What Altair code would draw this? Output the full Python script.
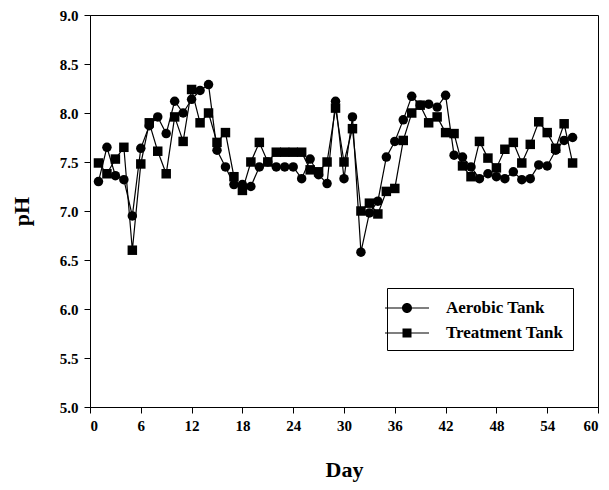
import altair as alt
import pandas as pd

days = list(range(1, 58))
aerobic = [7.30, 7.65, 7.36, 7.32, 6.95, 7.64, 7.87, 7.96, 7.79, 8.12,
           8.00, 8.14, 8.23, 8.29, 7.62, 7.45, 7.27, 7.27, 7.25, 7.45,
           7.50, 7.45, 7.45, 7.45, 7.33, 7.53, 7.37, 7.28, 8.12, 7.33,
           7.96, 6.58, 6.98, 7.10, 7.55, 7.71, 7.93, 8.17, 8.08, 8.09,
           8.06, 8.18, 7.57, 7.55, 7.45, 7.33, 7.38, 7.35, 7.33, 7.40,
           7.32, 7.33, 7.47, 7.46, 7.62, 7.72, 7.75]
treatment = [7.49, 7.38, 7.53, 7.65, 6.60, 7.48, 7.90, 7.61, 7.38, 7.96,
             7.71, 8.24, 7.90, 8.00, 7.70, 7.80, 7.35, 7.21, 7.50, 7.70,
             7.50, 7.60, 7.60, 7.60, 7.60, 7.42, 7.40, 7.50, 8.05, 7.50,
             7.84, 7.00, 7.08, 6.97, 7.20, 7.23, 7.72, 8.00, 8.08, 7.90,
             7.96, 7.80, 7.79, 7.46, 7.35, 7.71, 7.54, 7.44, 7.63, 7.70,
             7.49, 7.68, 7.91, 7.80, 7.64, 7.89, 7.49]
series_names = ["Aerobic Tank", "Treatment Tank"]
x_ticks = list(range(0, 61, 6))
y_ticks = [5.0, 5.5, 6.0, 6.5, 7.0, 7.5, 8.0, 8.5, 9.0]

df = pd.concat([
    pd.DataFrame({"Day": days, "pH": aerobic, "Series": series_names[0]}),
    pd.DataFrame({"Day": days, "pH": treatment, "Series": series_names[1]}),
])

FONT = "Liberation Serif"

x = alt.X("Day:Q", scale=alt.Scale(domain=[0, 60], nice=False),
          axis=alt.Axis(values=x_ticks, title="Day", format="d"))
y = alt.Y("pH:Q", scale=alt.Scale(domain=[5, 9], nice=False, zero=False),
          axis=alt.Axis(values=y_ticks, title="pH", format=".1f"))

base = alt.Chart(df)

lines = base.mark_line(color="black", strokeWidth=1.2).encode(
    x=x, y=y, detail="Series:N")

points = base.mark_point(filled=True, color="black", size=90, opacity=1).encode(
    x=x, y=y,
    shape=alt.Shape("Series:N", sort=series_names,
                    scale=alt.Scale(domain=series_names, range=["circle", "square"]),
                    legend=None))

# legend glyphs: short horizontal bars on both sides + filled marker
circle_path = ("M-2.2,-0.06H-0.45V0.06H-2.2Z M0.45,-0.06H2.2V0.06H0.45Z "
               "M-0.5,0A0.5,0.5 0 1,1 0.5,0A0.5,0.5 0 1,1 -0.5,0Z")
square_path = ("M-2.2,-0.06H-0.4V0.06H-2.2Z M0.4,-0.06H2.2V0.06H0.4Z "
               "M-0.45,-0.45H0.45V0.45H-0.45Z")

legend_layer = base.mark_point(filled=True, color="black", opacity=0).encode(
    x=x, y=y,
    shape=alt.Shape("Series:N", sort=series_names,
                    scale=alt.Scale(domain=series_names, range=[circle_path, square_path]),
                    legend=alt.Legend(title=None, orient="none", legendX=297, legendY=273,
                                      strokeColor="black", fillColor="white",
                                      padding=9, symbolSize=400, symbolOpacity=1,
                                      symbolFillColor="black",
                                      labelFont=FONT,
                                      labelFontSize=17, labelFontWeight="bold",
                                      labelColor="black", labelOffset=28,
                                      rowPadding=6, labelLimit=300)))

chart = alt.layer(lines, points, legend_layer).resolve_scale(
    shape="independent"
).properties(
    width=508, height=392,
    autosize=alt.AutoSizeParams(type="none"),
    padding={"left": 90, "top": 15, "right": 11, "bottom": 83},
).configure_view(
    stroke="black", strokeWidth=1
).configure_axis(
    grid=False, domainColor="black", tickColor="black", tickSize=6,
    labelFont=FONT, labelFontSize=15, labelFontWeight="bold", labelColor="black",
    titleFont=FONT, titleFontSize=22, titleFontWeight="bold", titleColor="black",
    labelPadding=5
).configure_axisX(
    titlePadding=26
).configure_axisY(
    titlePadding=26, labelPadding=6
)

chart.save("out.html", embed_options={"renderer": "svg", "actions": False})
